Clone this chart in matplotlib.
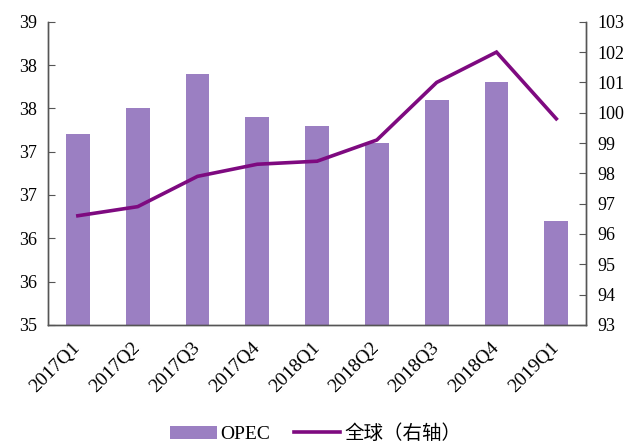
import numpy as np
import matplotlib.pyplot as plt
import matplotlib.transforms as mtransforms
from matplotlib.ticker import FuncFormatter, MultipleLocator

# === Data ===
quarters = ['2017Q1', '2017Q2', '2017Q3', '2017Q4', '2018Q1',
            '2018Q2', '2018Q3', '2018Q4', '2019Q1']
opec = [37.2, 37.5, 37.9, 37.4, 37.3, 37.1, 37.6, 37.8, 36.2]
world = [96.6, 96.9, 97.9, 98.3, 98.4, 99.1, 101.0, 102.0, 99.8]

BAR_COLOR = '#9B7FC2'
LINE_COLOR = '#7E0A80'

plt.rcParams['font.family'] = ['Liberation Serif', 'Noto Sans CJK SC']
plt.rcParams['font.size'] = 13

fig = plt.figure(figsize=(6.31, 4.45), dpi=100)
ax = fig.add_axes([0.076, 0.27, 0.853, 0.681])
ax2 = ax.twinx()

x = np.arange(len(quarters))
bars = ax.bar(x, opec, width=0.4, color=BAR_COLOR, label='OPEC', zorder=1)
line, = ax2.plot(x, world, color=LINE_COLOR, linewidth=2.6, label='全球（右轴）',
                 solid_joinstyle='miter')

ax.set_xlim(-0.5, len(quarters) - 0.5)
ax.set_ylim(35, 38.5)
ax.yaxis.set_major_locator(MultipleLocator(0.5))
# Excel-style rounding of the 0.5 steps
ax.yaxis.set_major_formatter(FuncFormatter(lambda v, p: f"{int(np.floor(v + 0.5))}"))
ax2.set_ylim(93, 103)
ax2.yaxis.set_major_locator(MultipleLocator(1))

ax.set_xticks(x)
ax.set_xticklabels(quarters, rotation=45, ha='right', rotation_mode='anchor', fontsize=14)
ax.tick_params(axis='x', length=0, pad=10)
ax.tick_params(axis='y', direction='in', length=5, color='#555555', pad=8)
ax2.tick_params(axis='y', direction='in', length=5, color='#555555', pad=8)

# nudge the rotated labels a bit left, like the original
shift = mtransforms.ScaledTranslation(-6 / 100, 0, fig.dpi_scale_trans)
for lbl in ax.get_xticklabels():
    lbl.set_transform(lbl.get_transform() + shift)

for a in (ax, ax2):
    a.spines['top'].set_visible(False)
    for s in ('left', 'right', 'bottom'):
        a.spines[s].set_color('#555555')
        a.spines[s].set_linewidth(1.0)

ax.set_zorder(ax2.get_zorder() - 1)
ax2.patch.set_visible(False)

fig.legend([bars, line], ['OPEC', '全球（右轴）'], loc='center',
           bbox_to_anchor=(0.5, 0.025), ncol=2, frameon=False, fontsize=14,
           handlelength=2.4, handleheight=0.7, columnspacing=1.2, handletextpad=0.2)

fig.savefig('out.png', dpi=100)
